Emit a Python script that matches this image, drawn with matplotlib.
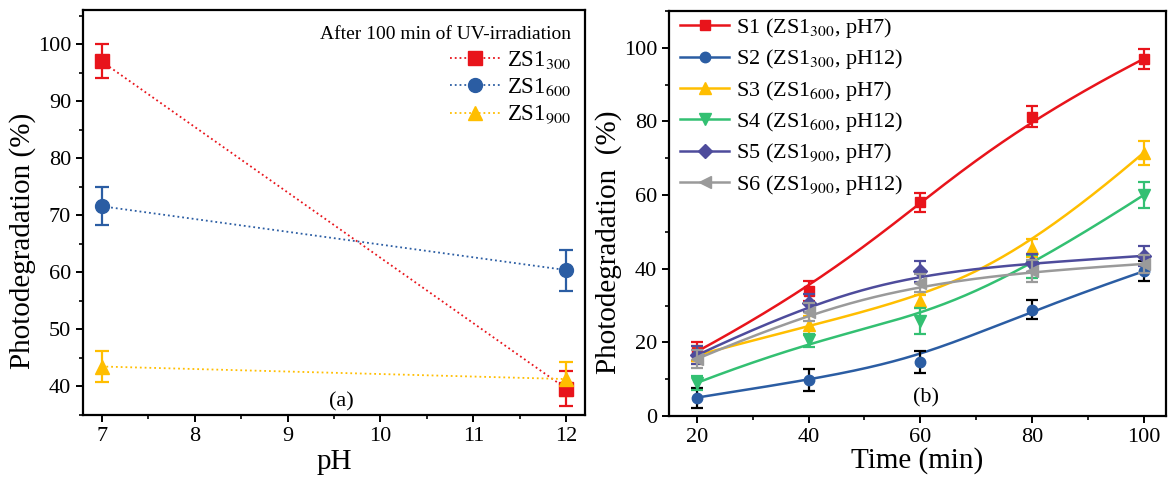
import numpy as np
import matplotlib
matplotlib.use("Agg")
import matplotlib.pyplot as plt
from matplotlib.ticker import MultipleLocator
from matplotlib.lines import Line2D

plt.rcParams['font.family'] = ['Liberation Serif', 'DejaVu Serif']
plt.rcParams['mathtext.fontset'] = 'stix'

# ---- panel (a): after 100 min, vs pH
ph = [7, 12]
a_labels = ['ZS1$_{300}$', 'ZS1$_{600}$', 'ZS1$_{900}$']
a_vals = [[97.0, 39.6], [71.6, 60.4], [43.5, 41.3]]
a_errs = [[3.0, 3.1], [3.3, 3.6], [2.7, 3.0]]

# ---- panel (b): vs time
time = [20, 40, 60, 80, 100]
b_labels = ['S1 (ZS1$_{300}$, pH7)', 'S2 (ZS1$_{300}$, pH12)', 'S3 (ZS1$_{600}$, pH7)',
            'S4 (ZS1$_{600}$, pH12)', 'S5 (ZS1$_{900}$, pH7)', 'S6 (ZS1$_{900}$, pH12)']
s1 = [17.5, 34.0, 58.0, 81.3, 97.0]
s2 = [5.0, 9.8, 14.6, 28.9, 39.3]
s3 = [16.5, 24.6, 31.2, 45.6, 71.5]
s4 = [9.0, 20.6, 25.7, 40.6, 60.0]
s5 = [16.5, 30.7, 39.3, 41.5, 43.5]
s6 = [15.5, 28.2, 36.1, 39.3, 41.3]
e1 = [2.5, 2.8, 2.5, 2.8, 2.8]
e2 = [2.7, 2.9, 3.0, 2.5, 2.7]
e3 = [2.5, 2.5, 1.8, 2.5, 3.2]
e4 = [2.0, 1.8, 3.5, 3.0, 3.5]
e5 = [2.5, 2.5, 2.8, 2.5, 2.7]
e6 = [2.5, 2.5, 2.5, 3.0, 2.5]

red = '#E8141B'
blue = '#2B5DA3'
yellow = '#FFBE00'
green = '#33C072'
purple = '#4E4C9C'
gray = '#9A9A9A'


def bspline(x, y, n=300, k=3):
    # clamped cubic B-spline with the data points as control points
    P = np.column_stack([x, y]).astype(float)
    m = len(P)
    knots = np.concatenate([[0] * k, np.arange(m - k + 1), [m - k] * k]).astype(float)
    ts = np.linspace(0, m - k, n)
    out = []
    for t in ts:
        s = min(int(np.searchsorted(knots, t, side='right')) - 1, m - 1)
        d = [P[j + s - k].copy() for j in range(k + 1)]
        for r in range(1, k + 1):
            for j in range(k, r - 1, -1):
                i = j + s - k
                den = knots[i + k + 1 - r] - knots[i]
                a = 0 if den == 0 else (t - knots[i]) / den
                d[j] = (1 - a) * d[j - 1] + a * d[j]
        out.append(d[k])
    out = np.array(out)
    return out[:, 0], out[:, 1]


fig = plt.figure(figsize=(11.69, 4.84), dpi=100)
W, H = 1169, 484
ax1 = fig.add_axes([83 / W, 1 - 415 / H, (585 - 83) / W, (415 - 10) / H])
ax2 = fig.add_axes([669 / W, 1 - 416 / H, (1166 - 669) / W, (416 - 11) / H])

# panel (a)
a_colors = [red, blue, yellow]
a_markers = ['s', 'o', '^']
handles = []
for lab, v, e, c, mk in zip(a_labels, a_vals, a_errs, a_colors, a_markers):
    ax1.errorbar(ph, v, yerr=e, color=c, ls=':', lw=1.3, marker=mk, ms=10,
                 capsize=5, elinewidth=1.6, capthick=1.6)
    handles.append(Line2D([], [], color=c, ls=':', lw=1.3, marker=mk, ms=10, label=lab))
ax1.set_xlim(6.8, 12.2)
ax1.set_ylim(35, 106)
ax1.xaxis.set_major_locator(MultipleLocator(1))
ax1.xaxis.set_minor_locator(MultipleLocator(0.5))
ax1.yaxis.set_major_locator(MultipleLocator(10))
ax1.yaxis.set_minor_locator(MultipleLocator(5))
ax1.set_xlabel('pH', fontsize=21, labelpad=2)
ax1.set_ylabel('Photodegradation (%)', fontsize=21)
ax1.yaxis.set_label_coords(-0.094, 0.43)
ax1.text(9.58, 37.3, '(a)', fontsize=16, ha='center', va='center')
ax1.legend(handles=handles, loc='upper right', frameon=False, fontsize=16.5,
           title='After 100 min of UV-irradiation', title_fontsize=14,
           alignment='right', handlelength=2.2, labelspacing=0.25,
           bbox_to_anchor=(1.005, 1.0), borderaxespad=0.3, handletextpad=0.3)

# panel (b)
b_series = [s1, s2, s3, s4, s5, s6]
b_errs = [e1, e2, e3, e4, e5, e6]
b_colors = [red, blue, yellow, green, purple, gray]
b_ecolors = [red, 'black', yellow, green, purple, gray]
b_markers = ['s', 'o', '^', 'v', 'D', '<']
b_ms = [7.5, 7.5, 8, 8, 7, 8]
for lab, v, e, c, ec, mk, ms in zip(b_labels, b_series, b_errs, b_colors,
                                    b_ecolors, b_markers, b_ms):
    xs, ys = bspline(time, v)
    ax2.plot(xs, ys, color=c, lw=1.8)
    ax2.errorbar(time, v, yerr=e, fmt='none', ecolor=ec, capsize=4,
                 elinewidth=1.6, capthick=1.6)
    ax2.plot(time, v, ls='none', marker=mk, ms=ms, color=c)
    ax2.plot([], [], color=c, lw=1.8, marker=mk, ms=ms, label=lab)
ax2.set_xlim(15, 104)
ax2.set_ylim(0, 110)
ax2.xaxis.set_major_locator(MultipleLocator(20))
ax2.xaxis.set_minor_locator(MultipleLocator(10))
ax2.yaxis.set_major_locator(MultipleLocator(20))
ax2.yaxis.set_minor_locator(MultipleLocator(10))
ax2.set_xlabel('Time (min)', fontsize=21, labelpad=0)
ax2.set_ylabel('Photodegradation  (%)', fontsize=21)
ax2.yaxis.set_label_coords(-0.095, 0.43)
ax2.text(61, 5, '(b)', fontsize=16, ha='center', va='center')
ax2.legend(loc='upper left', frameon=False, fontsize=16, handlelength=2.2,
           labelspacing=0.33, bbox_to_anchor=(0.0, 1.015), borderaxespad=0.1,
           handletextpad=0.3)

for ax in (ax1, ax2):
    for sp in ax.spines.values():
        sp.set_linewidth(1.6)
    ax.tick_params(which='major', direction='out', length=5, width=1.4, labelsize=16)
    ax.tick_params(which='minor', direction='out', length=3, width=1.2)

fig.savefig('out.png', dpi=100)
